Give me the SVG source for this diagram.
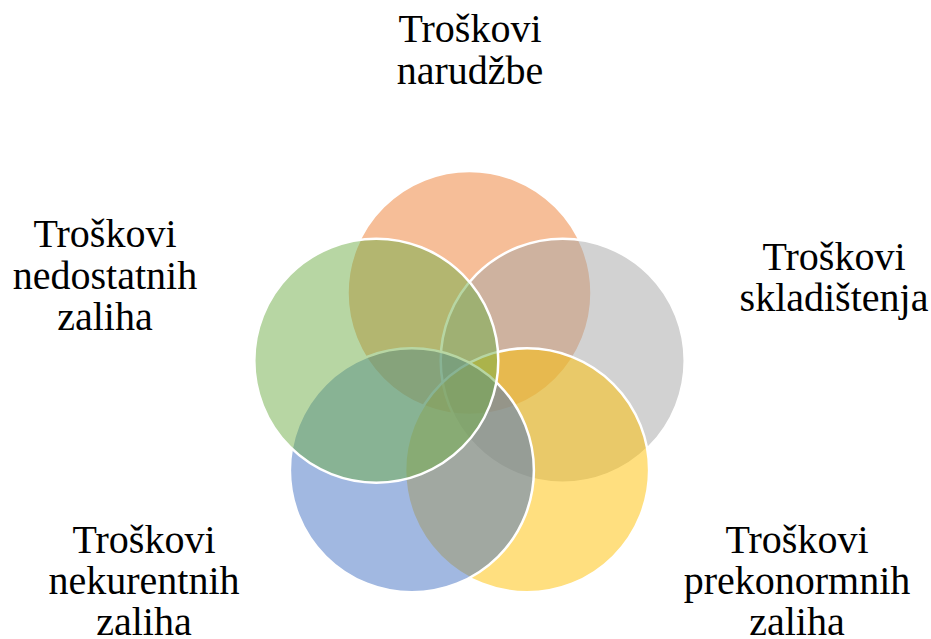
<svg xmlns="http://www.w3.org/2000/svg" width="931" height="639" viewBox="0 0 931 639">
<style>
.c{stroke:#FFFFFF;stroke-width:2.5;fill-opacity:0.5}
.t{font-family:"Liberation Serif","Times New Roman",serif;font-size:40px;fill:#000000;text-anchor:middle}
</style>
<rect width="931" height="639" fill="#FFFFFF"/>
<g id="node-narudzbe">
<circle class="c" cx="469.5" cy="293" r="122" fill="#ED7D31"/>
<text class="t" x="470" y="42">Troškovi</text>
<text class="t" x="470" y="84">narudžbe</text>
</g>
<g id="node-skladistenja">
<circle class="c" cx="562.7" cy="360.7" r="122" fill="#A5A5A5"/>
<text class="t" x="834" y="270">Troškovi</text>
<text class="t" x="834" y="311">skladištenja</text>
</g>
<g id="node-prekonormnih">
<circle class="c" cx="527.1" cy="470.3" r="122" fill="#FFC000"/>
<text class="t" x="797" y="553">Troškovi</text>
<text class="t" x="797" y="594">prekonormnih</text>
<text class="t" x="797" y="635">zaliha</text>
</g>
<g id="node-nekurentnih">
<circle class="c" cx="411.9" cy="470.3" r="122" fill="#4472C4"/>
<text class="t" x="144" y="553">Troškovi</text>
<text class="t" x="144" y="594">nekurentnih</text>
<text class="t" x="144" y="635">zaliha</text>
</g>
<g id="node-nedostatnih">
<circle class="c" cx="376.3" cy="360.7" r="122" fill="#70AD47"/>
<text class="t" x="105" y="247">Troškovi</text>
<text class="t" x="105" y="289">nedostatnih</text>
<text class="t" x="105" y="330">zaliha</text>
</g>
<g id="connectors"></g>
</svg>
